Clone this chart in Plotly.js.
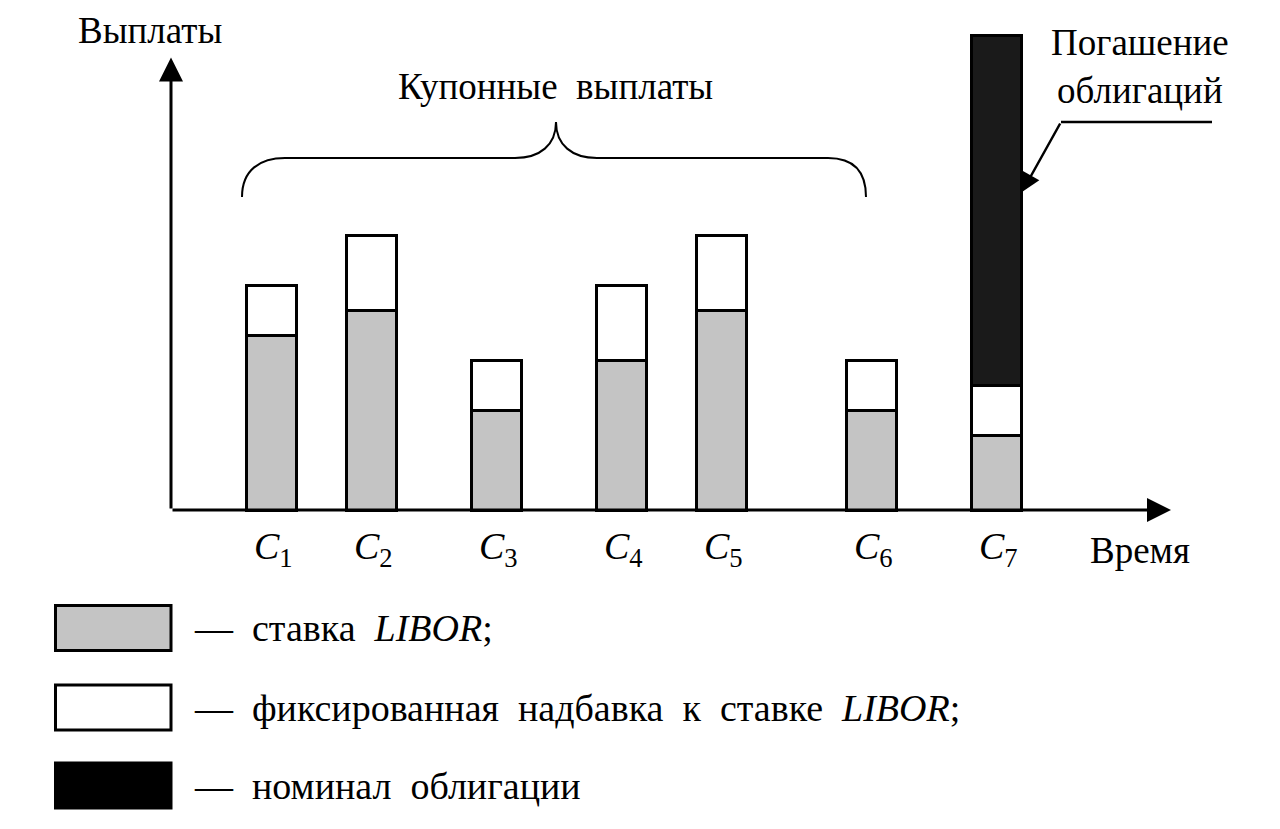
<!DOCTYPE html>
<html><head><meta charset="utf-8">
<script src="https://cdn.plot.ly/plotly-3.0.1.min.js"></script>
<style>html,body{margin:0;padding:0;background:#fff}#chart{width:1280px;height:829px}</style>
</head><body><div id="chart"></div>
<script>
// Data
const categories = ['C1','C2','C3','C4','C5','C6','C7'];
const tickLabels = ['<i>C</i><sub>1</sub>','<i>C</i><sub>2</sub>','<i>C</i><sub>3</sub>','<i>C</i><sub>4</sub>','<i>C</i><sub>5</sub>','<i>C</i><sub>6</sub>','<i>C</i><sub>7</sub>'];
const timePositions = [4, 8, 13, 18, 22, 28, 33];
const liborRate = [7, 8, 4, 6, 8, 4, 3];
const fixedSpread = [2, 3, 2, 3, 3, 2, 2];
const principal = [null, null, null, null, null, null, 14];
const seriesNames = ['ставка  <i>LIBOR</i>;', 'фиксированная  надбавка  к  ставке  <i>LIBOR</i>;', 'номинал  облигации'];
const seriesColors = ['#c4c4c4', '#ffffff', '#1a1a1a'];
const legendBoxColors = ['#c4c4c4', '#ffffff', '#000000'];

const FONT = 'Liberation Serif, Times New Roman, serif';
const barW = 2;
const outline = {color: '#000', width: 3};

const traces = [liborRate, fixedSpread, principal].map((vals, i) => ({
  type: 'bar', x: timePositions, y: vals, width: barW, name: seriesNames[i],
  marker: {color: seriesColors[i], line: outline}, hoverinfo: 'skip', showlegend: false
}));

const bigFont = {family: FONT, size: 37, color: '#000'};
const annotations = [
  // y axis arrow
  {x: 0, y: 18.1, ax: 0, ay: 0, xref: 'x', yref: 'y', axref: 'x', ayref: 'y', showarrow: true,
   arrowhead: 2, arrowsize: 1.6, arrowwidth: 3, arrowcolor: '#000', text: ''},
  // x axis arrow
  {x: 40, y: 0, ax: 0, ay: 0, xref: 'x', yref: 'y', axref: 'x', ayref: 'y', showarrow: true,
   arrowhead: 2, arrowsize: 1.6, arrowwidth: 3, arrowcolor: '#000', text: ''},
  {x: -0.84, y: 19.2, xref: 'x', yref: 'y', text: 'Выплаты', showarrow: false, font: bigFont},
  {x: 38.76, y: -1.6, xref: 'x', yref: 'y', text: 'Время', showarrow: false, font: bigFont},
  {x: 15.36, y: 16.95, xref: 'x', yref: 'y', text: 'Купонные  выплаты', showarrow: false, font: bigFont},
  {x: 38.76, y: 17.76, xref: 'x', yref: 'y', text: 'Погашение<br>облигаций', showarrow: false,
   font: bigFont, align: 'center'},
  // leader arrow to principal
  {x: 34.04, y: 12.72, ax: 35.6, ay: 15.52, xref: 'x', yref: 'y', axref: 'x', ayref: 'y', showarrow: true,
   arrowhead: 2, arrowsize: 1.5, arrowwidth: 2.5, arrowcolor: '#000', text: ''}
];

// category labels under the bars
timePositions.forEach((xv, i) => {
  annotations.push({x: xv + 0.1, y: -1.55, xref: 'x', yref: 'y', text: tickLabels[i], showarrow: false,
    font: {family: FONT, size: 38, color: '#000'}});
});

const shapes = [
  // brace above coupon payments
  {type: 'path', xref: 'x', yref: 'y', line: {color: '#000', width: 2},
   path: 'M2.84,12.52 C2.84,13.6 3.56,14.08 4.56,14.08 L13.76,14.08 C14.76,14.08 15.4,14.6 15.4,15.52 ' +
         'C15.4,14.6 16.04,14.08 17.04,14.08 L26.28,14.08 C27.28,14.08 27.8,13.6 27.8,12.52'},
  // leader horizontal line
  {type: 'line', xref: 'x', yref: 'y', x0: 35.6, x1: 41.64, y0: 15.52, y1: 15.52, line: {color: '#000', width: 2.5}}
];

// legend boxes and texts
const legendRows = [-4.72, -7.9, -11.02];
legendRows.forEach((yc, i) => {
  shapes.push({type: 'rect', xref: 'x', yref: 'y', x0: -4.62, x1: 0.0, y0: yc - 0.9, y1: yc + 0.9,
    fillcolor: legendBoxColors[i], line: {color: '#000', width: 3}});
  annotations.push({x: 0.85, y: yc, xref: 'x', yref: 'y', xanchor: 'left', showarrow: false,
    text: '—  ' + seriesNames[i], font: {family: FONT, size: 38, color: '#000'}});
});

const layout = {
  width: 1280, height: 829, paper_bgcolor: '#fff', plot_bgcolor: '#fff',
  margin: {l: 0, r: 0, t: 0, b: 0, pad: 0},
  barmode: 'stack', showlegend: false,
  xaxis: {range: [-6.84, 44.36], showticklabels: false, ticks: '',
          showgrid: false, zeroline: false, showline: false, fixedrange: true},
  yaxis: {range: [-12.76, 20.4], showgrid: false, zeroline: false, showline: false, showticklabels: false,
          ticks: '', fixedrange: true},
  annotations: annotations, shapes: shapes
};

Plotly.newPlot('chart', traces, layout, {staticPlot: true, displayModeBar: false});
</script></body></html>
